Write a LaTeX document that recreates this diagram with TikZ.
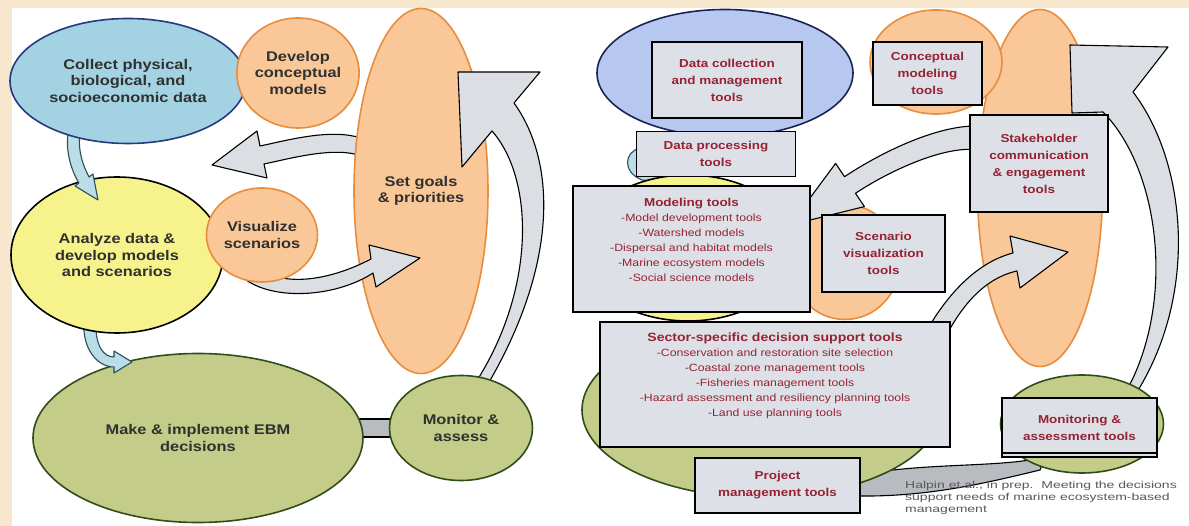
\documentclass[tikz,border=0pt]{standalone}
\usepackage{fontspec}
\setmainfont{Liberation Sans}[FakeStretch=1.17]
\newfontfamily\citefont{Liberation Sans}[FakeStretch=1.4]
\usetikzlibrary{shapes.geometric, positioning}
\definecolor{pagebg}{RGB}{247,232,205}
\definecolor{collectfill}{RGB}{163,211,226}
\definecolor{collectline}{RGB}{38,58,128}
\definecolor{orangefill}{RGB}{250,200,152}
\definecolor{orangeline}{RGB}{232,140,62}
\definecolor{yellowfill}{RGB}{246,243,140}
\definecolor{greenfill}{RGB}{196,204,138}
\definecolor{greenline}{RGB}{48,78,26}
\definecolor{bluefill}{RGB}{182,200,240}
\definecolor{navyline}{RGB}{28,36,84}
\definecolor{toolfill}{RGB}{221,225,231}
\definecolor{tooltext}{RGB}{150,34,52}
\definecolor{lbltext}{RGB}{48,48,48}
\definecolor{fatfill}{RGB}{219,222,227}
\definecolor{bridgefill}{RGB}{184,187,192}
\definecolor{cuefill}{RGB}{186,221,232}
\definecolor{cueline}{RGB}{40,80,90}
\definecolor{citetext}{RGB}{88,88,88}

\begin{document}
\begin{tikzpicture}[x=1pt, y=-1pt,
    oval/.style={ellipse, line width=1.6pt, inner sep=0pt, align=center, text=lbltext, font=\fontsize{14}{16.5}\selectfont\bfseries},
    goal/.style={oval, draw=orangeline, fill=orangefill},
    leaf/.style={oval, draw=greenline, fill=greenfill},
    toolbox/.style={rectangle, draw=black, line width=1.8pt, fill=toolfill, inner sep=0pt, align=center, text=tooltext, font=\fontsize{11.5}{17}\selectfont\bfseries},
    toollist/.style={align=center, inner sep=0pt, text=tooltext, font=\fontsize{10.5}{15}\selectfont},
    fatarrow/.style={draw=black, line width=1.1pt, fill=fatfill, line join=round},
    smallarrow/.style={draw=cueline, line width=1.1pt, fill=cuefill, line join=round},
    bridge/.style={draw=black, line width=1.1pt, fill=bridgefill}]
\fill[pagebg] (0,0) rectangle (1189,526);
\fill[white] (12,8) rectangle (1189,526);
\useasboundingbox (0,0) rectangle (1189,526);

\draw[fatarrow] (368,141) .. controls (338,126) and (289,140) .. (260,146) -- (257,131) -- (212,165) -- (267,178) -- (264,164) .. controls (293,158) and (342,144) .. (368,159) -- cycle;
\draw[bridge] (355,419) rectangle (400,437);
\node[goal, minimum width=134pt, minimum height=365pt] (goals) at (421,191) {Set goals\\\& priorities};
\draw[fatarrow] (458,72) -- (540,72) -- (514,103) .. controls (555,160) and (560,260) .. (488,384) -- (476,382) .. controls (535,290) and (535,180) .. (492,131) -- (462,167) -- cycle;
\draw[fatarrow] (240,275) .. controls (268,302) and (335,298) .. (373,273) -- (376,287) -- (420,258) -- (369,245) -- (371,259) .. controls (325,283) and (275,288) .. (252,262) -- cycle;
\node[leaf, minimum width=330pt, minimum height=169pt] (make) at (198,438) {Make \& implement EBM\\decisions};
\node[leaf, minimum width=143pt, minimum height=105pt] (monitor) at (461,428) {Monitor \&\\assess};
\draw[smallarrow] (84,322) -- (96,322) .. controls (95,345) and (103,357) .. (114,357) -- (114,351) -- (132,362) -- (114,373) -- (114,367) .. controls (97,367) and (82,348) .. (84,322) -- cycle;
\node[oval, draw=black, fill=yellowfill, minimum width=212pt, minimum height=156pt] (analyze) at (117,255) {Analyze data \&\\develop models\\and scenarios};
\draw[smallarrow] (69,128) -- (81,128) .. controls (76,150) and (84,167) .. (89,177) -- (93,174) -- (98,200) -- (75,186) -- (79,183) .. controls (72,172) and (64,150) .. (69,128) -- cycle;
\node[goal, minimum width=111pt, minimum height=94pt] (visualize) at (262,235) {Visualize\\scenarios};
\node[oval, draw=collectline, fill=collectfill, minimum width=236pt, minimum height=125pt] (collect) at (128,81) {Collect physical,\\biological, and\\socioeconomic data};
\node[goal, minimum width=108pt, minimum height=110pt] (develop) at (298,73) {Develop\\conceptual\\models};

\draw[bridge] (858,475) .. controls (930,462) and (1000,468) .. (1045,457) -- (1040,470) .. controls (990,482) and (930,497) .. (858,496) -- cycle;
\node[leaf, minimum width=358pt, minimum height=175pt] (makeR) at (761,410) {};
\node[goal, minimum width=125pt, minimum height=357pt] (goalsR) at (1040,188) {};
\node[goal, minimum width=132pt, minimum height=104pt] (developR) at (936,62) {};
\node[oval, draw=navyline, fill=bluefill, minimum width=256pt, minimum height=127pt] (collectR) at (725,73) {};
\draw[smallarrow] (640,148) .. controls (624,152) and (622,172) .. (642,180) -- (672,183) -- (672,176) -- (646,172) .. controls (634,166) and (636,156) .. (645,153) -- cycle;
\node[oval, draw=black, fill=yellowfill, minimum width=216pt, minimum height=146pt] (analyzeR) at (688,248) {};
\node[goal, minimum width=110pt, minimum height=115pt] (visualizeR) at (845,262) {};
\draw[fatarrow] (978,126) .. controls (935,125) and (877,155) .. (844.5,176.7) -- (835.6,163.4) -- (790,225) -- (864.4,206.6) -- (855.5,193.3) .. controls (889,171) and (945,145) .. (978,150) -- cycle;
\draw[fatarrow] (930,325) .. controls (950,292) and (978,262) .. (1013,253) -- (1010,236) -- (1068,252) -- (1020,288) -- (1017,271) .. controls (985,278) and (962,305) .. (945,338) -- cycle;
\draw[fatarrow] (1070,45) -- (1168,47) -- (1133,92) .. controls (1185,160) and (1200,290) .. (1137,392) -- (1128,388) .. controls (1175,300) and (1160,170) .. (1103,112) -- (1072,113) -- cycle;
\node[leaf, minimum width=163pt, minimum height=98pt] (monitorR) at (1082,424) {};

\node[toolbox, minimum width=150pt, minimum height=76pt] (datacol) at (727,80) {Data collection\\and management\\tools};
\node[toolbox, minimum width=159pt, minimum height=45pt] (dataproc) at (716,154) {Data processing\\tools};
\node[toolbox, minimum width=237pt, minimum height=126pt] (modbox) at (691.5,249) {};
\node[toollist] (modtext) at (691.5,240) {{\fontsize{11.5}{15}\selectfont\bfseries Modeling tools}\\-Model development tools\\-Watershed models\\-Dispersal and habitat models\\-Marine ecosystem models\\-Social science models};
\node[toolbox, minimum width=123pt, minimum height=77pt] (scenbox) at (883.5,253.5) {Scenario\\visualization\\tools};
\node[toolbox, minimum width=109pt, minimum height=63pt] (concbox) at (927.5,73.5) {Conceptual\\modeling\\tools};
\node[toolbox, minimum width=138pt, minimum height=97pt] (stakebox) at (1039,163.5) {Stakeholder\\communication\\\& engagement\\tools};
\node[toolbox, minimum width=350pt, minimum height=125pt] (sectbox) at (775,384.5) {};
\node[toollist] (secttext) at (775,376) {{\fontsize{12}{15}\selectfont\bfseries Sector-specific decision support tools}\\-Conservation and restoration site selection\\-Coastal zone management tools\\-Fisheries management tools\\-Hazard assessment and resiliency planning tools\\-Land use planning tools};
\node[toolbox, minimum width=165pt, minimum height=55pt] (projbox) at (777.5,485.5) {Project\\management tools};
\node[toolbox, minimum width=155pt, minimum height=59pt] (monbox) at (1079.5,427.5) {Monitoring \&\\assessment tools};
\draw[line width=1.2pt] ([yshift=5pt]monbox.south west) -- ([yshift=5pt]monbox.south east);
\node[anchor=north west, align=left, inner sep=0pt, text=citetext, font=\citefont\fontsize{10}{12}\selectfont] (cite) at (905,481) {Halpin et al., in prep.\ \ Meeting the decisions\\support needs of marine ecosystem-based\\management};
\end{tikzpicture}
\end{document}
